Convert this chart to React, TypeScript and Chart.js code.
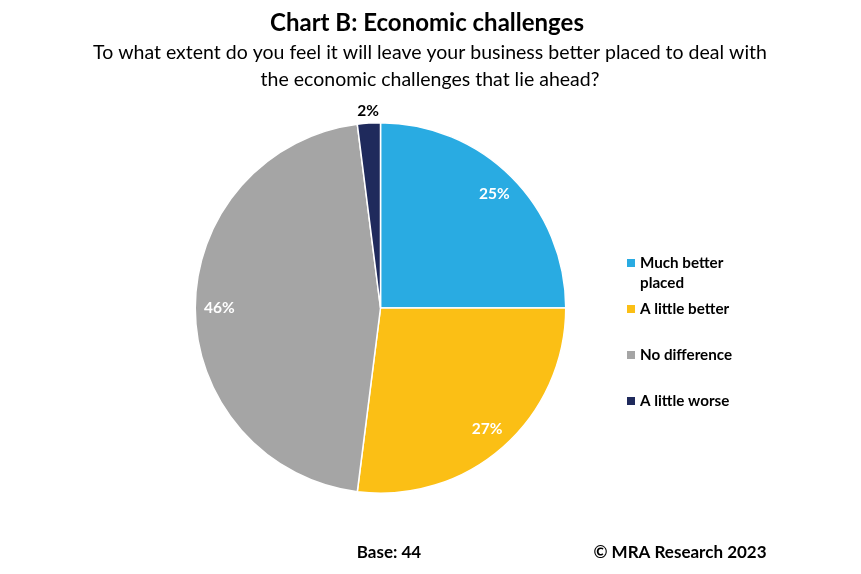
import React, { useEffect, useRef } from "react";
import { Chart, registerables } from "chart.js";

Chart.register(...registerables);

const categories = ["Much better placed", "A little better", "No difference", "A little worse"];
const legendLines = [["Much better", "placed"], ["A little better"], ["No difference"], ["A little worse"]];
const values = [25, 27, 46, 2];
const colors = ["#29ABE2", "#FBBF15", "#A5A5A5", "#1F2A5C"];
const titleText = "Chart B: Economic challenges";
const subtitleLines = [
  "To what extent do you feel it will leave your business better placed to deal with",
  "the economic challenges that lie ahead?",
];
const baseText = "Base: 44";
const copyrightText = "© MRA Research 2023";

const FONT = "Lato, 'Open Sans', sans-serif";

const overlayPlugin = {
  id: "overlay",
  afterDraw(chart: any) {
    const ctx = chart.ctx;
    ctx.save();
    ctx.fillStyle = "#000";
    ctx.textAlign = "center";
    ctx.textBaseline = "middle";
    ctx.font = `bold 24px ${FONT}`;
    ctx.fillText(titleText, 427, 23);
    ctx.font = `19.5px ${FONT}`;
    ctx.fillText(subtitleLines[0], 430, 53);
    ctx.fillText(subtitleLines[1], 430, 80);

    // data labels
    const meta = chart.getDatasetMeta(0);
    meta.data.forEach((arc: any, i: number) => {
      const v = chart.data.datasets[0].data[i];
      const mid = (arc.startAngle + arc.endAngle) / 2;
      const small = v < 5;
      const r = small ? arc.outerRadius + 12 : arc.outerRadius * 0.87;
      const x = arc.x + Math.cos(mid) * r;
      const y = arc.y + Math.sin(mid) * r;
      ctx.font = `bold 15.5px ${FONT}`;
      ctx.fillStyle = small ? "#000" : "#fff";
      ctx.fillText(v + "%", x, y);
    });

    // legend
    ctx.textAlign = "left";
    const lx = 627;
    const ys = [263, 309, 355, 401];
    legendLines.forEach((lines, i) => {
      ctx.fillStyle = colors[i];
      ctx.fillRect(lx, ys[i] - 4, 8, 8);
      ctx.fillStyle = "#000";
      ctx.font = `bold 15.2px ${FONT}`;
      lines.forEach((t, j) => ctx.fillText(t, lx + 13, ys[i] + j * 20));
    });

    // footer
    ctx.font = `bold 17px ${FONT}`;
    ctx.textAlign = "center";
    ctx.fillText(baseText, 389, 553);
    ctx.fillText(copyrightText, 680, 553);
    ctx.restore();
  },
};

export default function App() {
  const ref = useRef<HTMLCanvasElement>(null);
  useEffect(() => {
    if (!ref.current) return;
    const chart = new Chart(ref.current, {
      type: "pie",
      data: {
        labels: categories,
        datasets: [
          {
            data: values,
            backgroundColor: colors,
            borderColor: "#fff",
            borderWidth: 1.5,
          },
        ],
      },
      options: {
        animation: false,
        responsive: false,
        maintainAspectRatio: false,
        layout: { padding: { left: 194, right: 294, top: 122, bottom: 80 } },
        plugins: { legend: { display: false }, title: { display: false }, tooltip: { enabled: false } },
      },
      plugins: [overlayPlugin],
    });
    return () => chart.destroy();
  }, []);
  return (
    <div style={{ position: "fixed", left: 0, top: 0, width: 861, height: 574, background: "#fff" }}>
      <canvas ref={ref} width={861} height={574} style={{ width: 861, height: 574 }} />
    </div>
  );
}
